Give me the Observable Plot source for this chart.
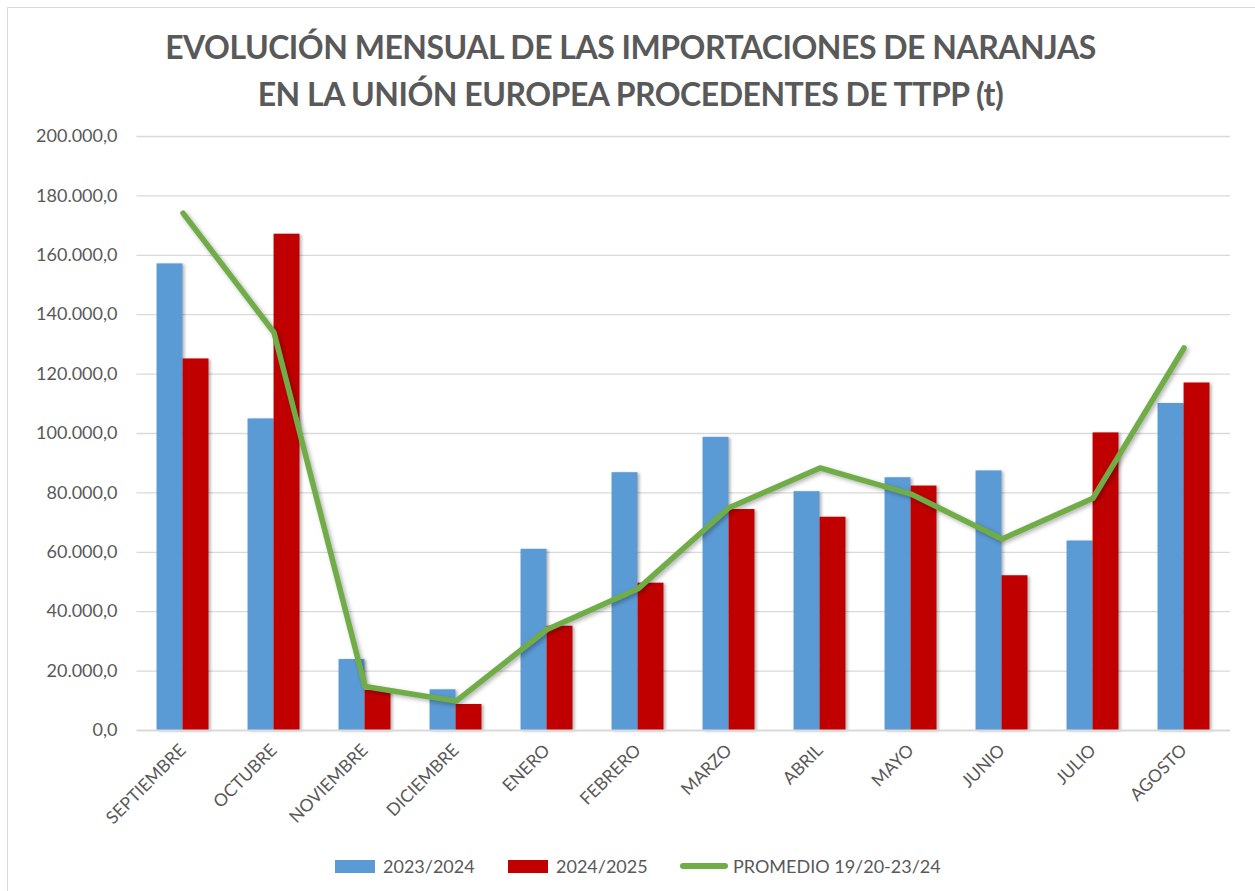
<!DOCTYPE html>
<html>
<head>
<meta charset="utf-8">
<script src="https://cdn.jsdelivr.net/npm/d3@7"></script>
<script src="https://cdn.jsdelivr.net/npm/@observablehq/plot@0.6"></script>
<style>
  html, body { margin: 0; padding: 0; background: #fff; }
  body { width: 1255px; height: 891px; position: relative; overflow: hidden; font-family: Lato, "Open Sans", sans-serif; color: #595959; }
  #frame { position: absolute; left: 7px; top: 7px; width: 1300px; height: 950px; border-left: 1px solid #d9d9d9; border-top: 1px solid #d9d9d9; }
  #title { position: absolute; left: 0; width: 1261px; top: 23px; text-align: center; font-weight: 700; font-size: 32px; letter-spacing: -0.5px; line-height: 47px; color: #595959; }
  #chart { position: absolute; left: 0; top: 120px; }
  .leg { position: absolute; top: 855px; font-size: 18px; line-height: 22px; color: #595959; }
  .sw { position: absolute; }
</style>
</head>
<body>
<div id="frame"></div>
<div id="title">EVOLUCIÓN MENSUAL DE LAS IMPORTACIONES DE NARANJAS<br>EN LA UNIÓN EUROPEA PROCEDENTES DE TTPP (t)</div>
<div id="chart"></div>
<div id="legend"></div>
<script>
const months = ["SEPTIEMBRE","OCTUBRE","NOVIEMBRE","DICIEMBRE","ENERO","FEBRERO","MARZO","ABRIL","MAYO","JUNIO","JULIO","AGOSTO"];
const s2324 = [157100, 104900, 23900, 13700, 61000, 86800, 98700, 80400, 85100, 87400, 63800, 110100];
const s2425 = [125100, 167100, 13500, 8750, 35100, 49600, 74400, 71800, 82300, 52100, 100200, 117000];
const promedio = [174200, 134000, 14800, 9900, 34000, 47700, 75000, 88400, 79600, 64500, 78200, 128800];
const yTicks = [0, 20000, 40000, 60000, 80000, 100000, 120000, 140000, 160000, 180000, 200000];
const seriesNames = ["2023/2024", "2024/2025", "PROMEDIO 19/20-23/24"];
const colors = ["#5B9BD5", "#C00000", "#70AD47"];

const locale = d3.formatLocale({decimal: ",", thousands: ".", grouping: [3], currency: ["", "€"]});
const fmt = locale.format(",.1f");

const W = 1255, H = 720, ml = 136.5, mr = 25, mt = 16, mb = 110;
const bw = (W - ml - mr) / months.length;
const barW = bw * 0.2855;
const half = bw / 2;

const rows = months.map((m, i) => ({month: m, a: s2324[i], b: s2425[i], p: promedio[i]}));

const plot = Plot.plot({
  width: W, height: H,
  marginLeft: ml, marginRight: mr, marginTop: mt, marginBottom: mb,
  style: {fontFamily: "Lato, 'Open Sans', sans-serif", color: "#595959", background: "transparent", overflow: "visible"},
  x: {domain: months, padding: 0, align: 0.5},
  y: {domain: [0, 200000]},
  marks: [
    Plot.gridY(yTicks.slice(1), {stroke: "#d9d9d9", strokeOpacity: 1, strokeWidth: 1.3}),
    Plot.barY(rows, {x: "month", y: "a", fill: colors[0], insetLeft: half - barW, insetRight: half}),
    Plot.barY(rows, {x: "month", y: "b", fill: colors[1], insetLeft: half, insetRight: half - barW}),
    Plot.ruleY([0], {stroke: "#d9d9d9", strokeWidth: 2}),
    Plot.line(rows, {x: "month", y: "p", stroke: colors[2], strokeWidth: 5.5, strokeLinejoin: "round", strokeLinecap: "round"}),
    Plot.axisY(yTicks, {tickSize: 0, tickPadding: 19.5, tickFormat: fmt, fontSize: 18, label: null, fill: "#595959"}),
    Plot.axisX({tickSize: 0, tickPadding: 17, tickRotate: -45, fontSize: 17.5, label: null, fill: "#595959"})
  ]
});
document.getElementById("chart").appendChild(plot);

// subtle shadows like the original
plot.querySelectorAll('g[aria-label="bar"]').forEach(g => g.style.filter = "drop-shadow(2px 1px 1.5px rgba(0,0,0,0.3))");
plot.querySelectorAll('g[aria-label="line"]').forEach(g => g.style.filter = "drop-shadow(2px 2px 2px rgba(0,0,0,0.3))");

// legend
const leg = document.getElementById("legend");
const items = [
  {name: seriesNames[0], color: colors[0], type: "rect", sx: 335, tx: 383},
  {name: seriesNames[1], color: colors[1], type: "rect", sx: 508, tx: 556},
  {name: seriesNames[2], color: colors[2], type: "line", sx: 680, tx: 733}
];
items.forEach(it => {
  const sw = document.createElement("div");
  sw.className = "sw";
  if (it.type === "rect") {
    Object.assign(sw.style, {left: it.sx + "px", top: "860px", width: "40px", height: "13px", background: it.color});
  } else {
    Object.assign(sw.style, {left: it.sx + "px", top: "863px", width: "48px", height: "6px", background: it.color, borderRadius: "3px"});
  }
  leg.appendChild(sw);
  const t = document.createElement("div");
  t.className = "leg";
  t.style.left = it.tx + "px";
  t.textContent = it.name;
  leg.appendChild(t);
});
</script>
</body>
</html>
